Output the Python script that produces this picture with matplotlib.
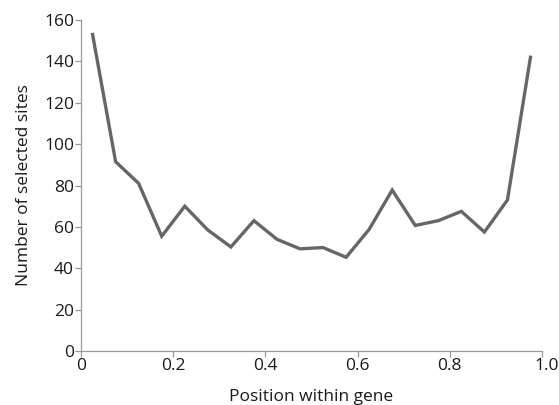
import matplotlib
matplotlib.use("Agg")
import matplotlib.pyplot as plt
from matplotlib.transforms import ScaledTranslation

positions = [0.025, 0.075, 0.125, 0.175, 0.225, 0.275, 0.325, 0.375, 0.425, 0.475,
             0.525, 0.575, 0.625, 0.675, 0.725, 0.775, 0.825, 0.875, 0.925, 0.975]
sites = [153, 91.5, 81, 55.5, 70, 58.5, 50.3, 63, 54, 49.4,
         50, 45.3, 58.8, 77.8, 60.7, 63, 67.5, 57.5, 73, 142]
xticks = [0, 0.2, 0.4, 0.6, 0.8, 1.0]
xticklabels = ["0", "0.2", "0.4", "0.6", "0.8", "1.0"]
yticks = [0, 20, 40, 60, 80, 100, 120, 140, 160]

plt.rcParams['font.family'] = ['Open Sans', 'DejaVu Sans']

fig = plt.figure(figsize=(5.59, 4.05), dpi=100)
ax = fig.add_axes([0.145, 0.1333, 0.8246, 0.8173])
ax.plot(positions, sites, color='#666666', lw=2.4, solid_joinstyle='miter')
ax.set_xlim(0, 1.0)
ax.set_ylim(0, 160)
ax.set_xticks(xticks)
ax.set_xticklabels(xticklabels)
ax.set_yticks(yticks)
for s in ['top', 'right']:
    ax.spines[s].set_visible(False)
for s in ['left', 'bottom']:
    ax.spines[s].set_color('#999999')
    ax.spines[s].set_linewidth(0.9)
ax.tick_params(axis='both', colors='#999999', labelcolor='#1a1a1a', labelsize=12.5,
               length=4, width=0.9, direction='out', pad=1)
last = ax.get_xticklabels()[-1]
last.set_transform(last.get_transform() + ScaledTranslation(5/100, 0, fig.dpi_scale_trans))
ax.set_xlabel('Position within gene', fontsize=12.5, color='#1a1a1a', labelpad=11)
ax.set_ylabel('Number of selected sites', fontsize=12.5, color='#1a1a1a', labelpad=9)
fig.savefig('out.png', dpi=100)
